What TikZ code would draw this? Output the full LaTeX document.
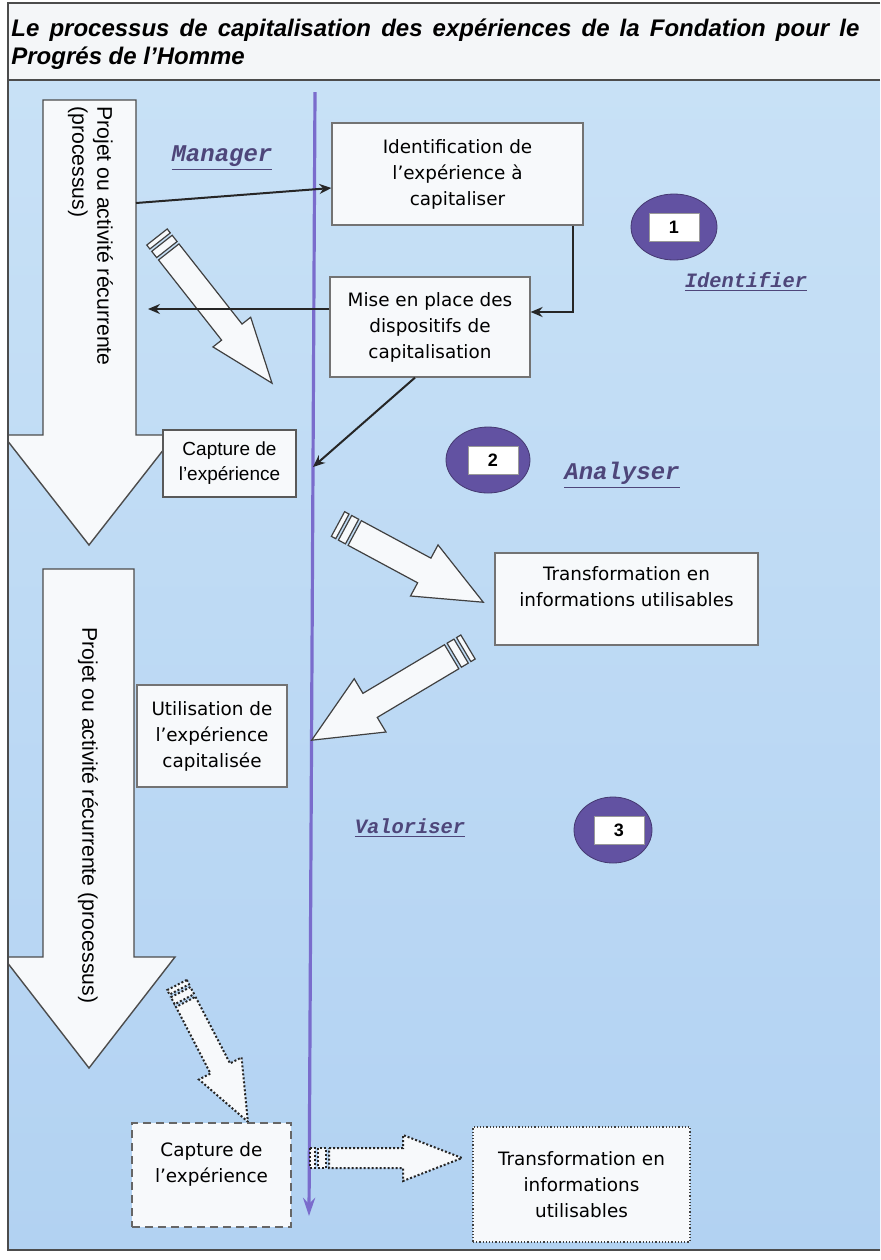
\documentclass[tikz,border=0pt]{standalone}
\usepackage{fontspec}
\setmainfont{Liberation Sans}
\newfontfamily\boxfont{DejaVu Sans}
\newfontfamily\labfont{Liberation Mono}
\usetikzlibrary{arrows.meta,shapes.geometric}

\definecolor{skytop}{RGB}{200,225,246}
\definecolor{skybot}{RGB}{178,210,242}
\definecolor{titlebg}{RGB}{244,246,248}
\definecolor{vcol}{RGB}{122,108,204}
\definecolor{labcol}{RGB}{78,70,122}
\definecolor{badgecol}{RGB}{98,82,162}
\definecolor{boxfill}{RGB}{247,249,251}

\tikzset{
  box/.style={draw=black!55, fill=boxfill, line width=0.6pt, align=center, inner sep=1pt,
    font=\boxfont\fontsize{9.2}{13}\selectfont},
  conn/.style={draw=black!85, line width=1pt, -{Stealth[length=6pt,width=5pt]}},
  vline/.style={draw=vcol, line width=1.6pt, -{Stealth[length=9pt,width=6pt]}},
  bigarrow/.style={draw=black!70, fill=boxfill, line width=0.7pt},
  arrowpart/.style={draw=black!75, fill=boxfill, line width=0.6pt},
  dotpart/.style={arrowpart/.append style={draw=black!85, line width=1pt, densely dotted}},
  badge/.style={ellipse, fill=badgecol, draw=badgecol!70!black, line width=0.4pt,
    minimum width=43pt, minimum height=33pt, inner sep=0pt},
  numbox/.style={draw=black!40, fill=white, minimum width=25pt, minimum height=14pt,
    inner sep=0pt, font=\bfseries\fontsize{9}{10}\selectfont},
  phase/.style={text=labcol, font=\labfont\bfseries\itshape\fontsize{12}{14}\selectfont},
  title/.style={text width=424pt, align=justify, inner sep=0pt,
    font=\bfseries\itshape\fontsize{12}{14}\selectfont},
  % striped block arrow: length, head length, head half width, body half width
  pics/stripearrow/.style n args={4}{code={
    \path[arrowpart] (0,-#4) rectangle (5,#4) (8,-#4) rectangle (16,#4);
    \path[arrowpart] (19,-#4) -- (#1-#2,-#4) -- (#1-#2,-#3) -- (#1,0)
      -- (#1-#2,#3) -- (#1-#2,#4) -- (19,#4) -- cycle;
  }}
}

\begin{document}
\begin{tikzpicture}[x=0.5pt,y=-0.5pt]
\useasboundingbox (0,0) rectangle (880,1260);

% background and title band
\fill[titlebg] (8,3) rectangle (880,80);
\shade[top color=skytop, bottom color=skybot] (8,80) rectangle (880,1250);
\node[title, anchor=north west] (title) at (11,18)
  {\hyphenpenalty=10000\relax Le processus de capitalisation des expériences de la Fondation pour le\linebreak Progrés de l'Homme};

% big process arrows
\begin{scope}
\clip (8,80) rectangle (880,1250);
\draw[bigarrow] (43,100) -- (136,100) -- (136,435) -- (175,435) -- (89,545) -- (3,435) -- (43,435) -- cycle;
\draw[bigarrow] (43,569) -- (134,569) -- (134,957) -- (175,957) -- (89,1068) -- (3,957) -- (43,957) -- cycle;
\end{scope}
\node[font=\fontsize{10.6}{12.5}\selectfont, rotate=-90, align=left, anchor=west, inner sep=0pt]
  (proj1) at (90.5,106) {Projet ou activité récurrente\\(processus)};
\node[font=\fontsize{10.6}{12.5}\selectfont, rotate=-90, anchor=west, inner sep=0pt]
  (proj2) at (88,627) {Projet ou activité récurrente (processus)};

% time line
\coordinate (ptop) at (315,92);
\coordinate (pbot) at (309,1216);
\draw[vline] (ptop) -- (pbot);

% striped arrows
\pic[rotate=-51.8] at (157,237) {stripearrow={186}{65}{24}{13}};
\pic[rotate=-28.3] at (338,524) {stripearrow={165}{67}{29}{14}};
\pic[rotate=-149.2] at (468,647) {stripearrow={182}{68}{31}{14}};
\pic[rotate=-62.6, dotpart] at (177,985) {stripearrow={154}{60}{24}{11}};
\pic[dotpart] at (310,1158) {stripearrow={152}{59}{23}{10}};

% boxes
\node[box, minimum width=125.5pt, minimum height=51pt] (ident) at (457.5,174)
  {Identification de\\l’expérience à\\capitaliser};
\node[box, minimum width=100pt, minimum height=50pt] (mise) at (430,327)
  {Mise en place des\\dispositifs de\\capitalisation};
\node[box, draw=black!65, font=\fontsize{9.5}{12.5}\selectfont, minimum width=66.5pt, minimum height=33.5pt]
  (capt) at (229.5,463.5) {Capture de\\l'expérience};
\node[box, minimum width=131.5pt, minimum height=46pt] (transfo) at (626.5,599)
  {Transformation en\\informations utilisables\\\mbox{}};
\node[box, minimum width=75pt, minimum height=51pt] (usage) at (212,736)
  {Utilisation de\\l’expérience\\capitalisée};
\node[box, draw=black!60, dash pattern=on 4pt off 2.5pt, line width=1.1pt, minimum width=79.5pt, minimum height=52pt]
  (capt2) at (211.5,1175) {Capture de\\l’expérience\\\mbox{}};
\node[box, draw=black!75, densely dotted, line width=1.1pt, minimum width=108.5pt, minimum height=57.5pt]
  (transfo2) at (581.5,1184.5) {Transformation en\\informations\\utilisables};

% connectors
\coordinate (shaft1) at (136,203);
\coordinate (back) at (148,309);
\coordinate (hit1) at (313,467);
\draw[conn] (shaft1) -- ([yshift=-7pt]ident.west);
\draw[conn] ([xshift=-5.5pt]ident.south east) |- ([yshift=7.5pt]mise.east);
\draw[conn] ([yshift=9pt]mise.west) -- (back);
\draw[conn] ([xshift=-7.5pt]mise.south) -- (hit1);

% phases
\node[badge] (b1) at (674,227) {};
\node[numbox] (n1) at (b1) {1};
\node[badge, minimum width=42pt] (b2) at (488,460) {};
\node[numbox] (n2) at ([xshift=2.5pt]b2) {2};
\node[badge, minimum width=39pt] (b3) at (613,830) {};
\node[numbox] (n3) at ([xshift=3pt]b3) {3};

\node[phase] (manager) at (222,158) {\underline{Manager}};
\node[phase, font=\labfont\bfseries\itshape\fontsize{10.2}{12}\selectfont] (identif) at (746,282) {\underline{Identifier}};
\node[phase] (analys) at (622,475) {\underline{Analyser}};
\node[phase, font=\labfont\bfseries\itshape\fontsize{10.2}{12}\selectfont] (valor) at (410,828) {\underline{Valoriser}};

% frame
\draw[black!70, line width=1pt] (880,3) -- (8,3) -- (8,1250) -- (880,1250);
\draw[black!70, line width=1pt] (8,80) -- (880,80);
\end{tikzpicture}
\end{document}
